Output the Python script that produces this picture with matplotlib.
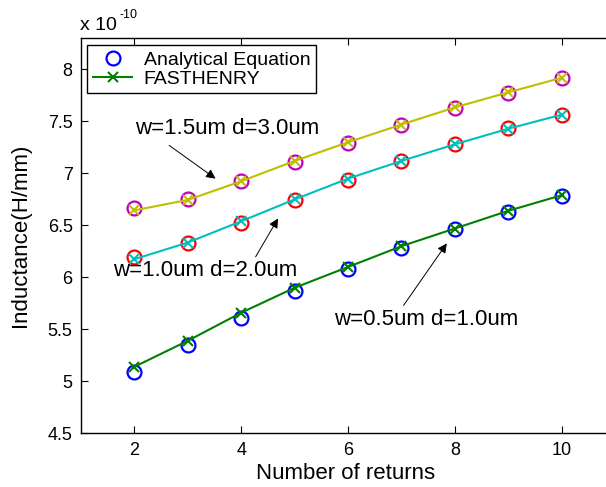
import numpy as np
import matplotlib
matplotlib.use("Agg")
import matplotlib.pyplot as plt
import matplotlib.ticker as mticker
from matplotlib.lines import Line2D

plt.rcParams["font.family"] = ["Liberation Sans", "DejaVu Sans"]

# ─── Data (inductance in units of 1e-10 H/mm) ────────────────────────────────
returns = [2, 3, 4, 5, 6, 7, 8, 9, 10]

analytic_w05 = [5.09, 5.35, 5.61, 5.865, 6.08, 6.285, 6.47, 6.63, 6.78]
analytic_w10 = [6.20, 6.33, 6.52, 6.74, 6.94, 7.115, 7.285, 7.44, 7.565]
analytic_w15 = [6.67, 6.75, 6.93, 7.11, 7.29, 7.47, 7.63, 7.775, 7.92]

fasthenry_w05 = [5.14, 5.39, 5.66, 5.90, 6.10, 6.30, 6.47, 6.64, 6.79]
fasthenry_w10 = [6.175, 6.335, 6.54, 6.75, 6.95, 7.12, 7.28, 7.43, 7.565]
fasthenry_w15 = [6.645, 6.745, 6.925, 7.12, 7.30, 7.47, 7.635, 7.78, 7.92]

yticks = [4.5, 5, 5.5, 6, 6.5, 7, 7.5, 8]
xticks = [2, 4, 6, 8, 10]

# ─── Figure ───────────────────────────────────────────────────────────────────
W, H = 606, 487
fig = plt.figure(figsize=(W / 100, H / 100), dpi=100)
ax_l, ax_r, ax_t, ax_b = 81, 615, 38.3, 433.3
ax = fig.add_axes([ax_l / W, 1 - ax_b / H, (ax_r - ax_l) / W, (ax_b - ax_t) / H])

circ = dict(marker="o", linestyle="none", markersize=10, markeredgewidth=1.6,
            markerfacecolor="none", zorder=2)
line = dict(marker="x", markersize=7.5, markeredgewidth=1.5, linewidth=1.5, zorder=3)

series = [
    (analytic_w05, fasthenry_w05, "#0000ff", "#008000"),
    (analytic_w10, fasthenry_w10, "#ff0000", "#00bfbf"),
    (analytic_w15, fasthenry_w15, "#bf00bf", "#bfbf00"),
]
for an, fh, c_circ, c_line in series:
    ax.plot(returns, an, color=c_circ, markeredgecolor=c_circ, **circ)
    ax.plot(returns, fh, color=c_line, markeredgecolor=c_line, **line)

ax.set_xlim(1, 11)
ax.set_ylim(4.5, 8.3)
ax.set_xticks(xticks)
ax.set_yticks(yticks)
ax.yaxis.set_major_formatter(mticker.FormatStrFormatter("%g"))
ax.tick_params(direction="in", length=5, width=0.8, labelsize=13,
               top=True, right=True, pad=6)
for s in ax.spines.values():
    s.set_linewidth(1.0)

ax.set_xlabel("Number of returns", fontsize=16)
ax.set_ylabel("Inductance(H/mm)", fontsize=16)
ax.xaxis.set_label_coords(0.495, -0.075)
ax.yaxis.set_label_coords(-0.094, 0.5)

# exponent label
fig.text(80 / W, 1 - 26 / H, "x 10", fontsize=14, va="center", ha="left")
fig.text(120 / W, 1 - 15 / H, "-10", fontsize=9, va="center", ha="left")

# annotations
arrow = dict(arrowstyle="-|>", color="black", lw=0.7, mutation_scale=14,
             shrinkA=0, shrinkB=0)
ax.annotate("", xy=(3.52, 6.95), xytext=(2.65, 7.27), arrowprops=arrow)
ax.text(3.73, 7.43, "w=1.5um d=3.0um", fontsize=16, ha="center", va="center")
ax.annotate("", xy=(4.69, 6.567), xytext=(4.27, 6.198), arrowprops=arrow)
ax.text(3.32, 6.07, "w=1.0um d=2.0um", fontsize=16, ha="center", va="center")
ax.annotate("", xy=(7.85, 6.327), xytext=(7.04, 5.73), arrowprops=arrow)
ax.text(7.46, 5.59, "w=0.5um d=1.0um", fontsize=16, ha="center", va="center")

# legend
handles = [
    Line2D([0], [0], color="#0000ff", markeredgecolor="#0000ff", **circ),
    Line2D([0], [0], color="#008000", markeredgecolor="#008000", **line),
]
leg = ax.legend(handles, ["Analytical Equation", "FASTHENRY"],
                loc="upper left", bbox_to_anchor=(87.3 / W, 1 - 45.5 / H),
                bbox_transform=fig.transFigure, fontsize=14, frameon=True,
                fancybox=False, framealpha=1, edgecolor="black",
                handlelength=2.0, handletextpad=0.6, borderpad=0.3,
                labelspacing=0.05, borderaxespad=0)
leg.get_frame().set_linewidth(1.0)

fig.savefig("out.png", dpi=100)
